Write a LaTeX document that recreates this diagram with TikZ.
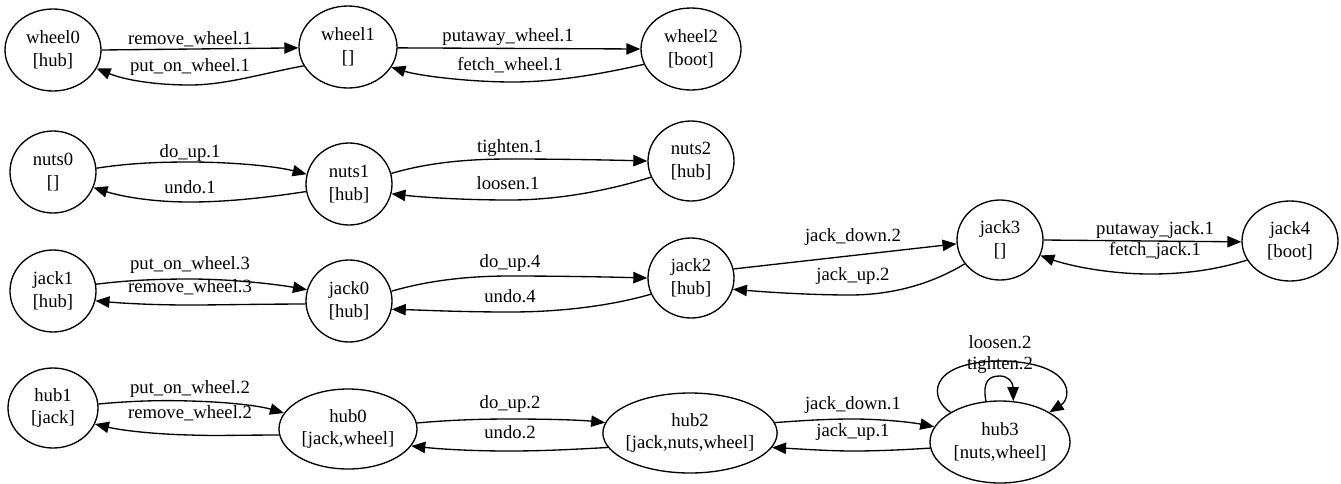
\documentclass[tikz,border=0pt]{standalone}
\usepackage{fontspec}
\setmainfont{Liberation Serif}
\usetikzlibrary{shapes.geometric,arrows.meta}
\begin{document}
\begin{tikzpicture}[x=0.75pt,y=-0.75pt,
  st/.style={ellipse,draw,line width=1pt,inner sep=0pt,align=center,font=\fontsize{14}{17}\selectfont},
  lbl/.style={inner sep=0pt,font=\fontsize{14}{16.8}\selectfont},
  arr/.style={line width=1pt,-{Triangle[length=10.5pt,width=8.5pt]}}]
\useasboundingbox (0,0) rectangle (1341,483);
% nodes
\node[st,minimum width=72pt,minimum height=61.5pt] (wheel0) at (53,50) {wheel0\\{[hub]}};
\node[st,minimum width=73.5pt,minimum height=61.5pt] (wheel1) at (348,47) {wheel1\\{[]}};
\node[st,minimum width=75pt,minimum height=61.5pt] (wheel2) at (691,49) {wheel2\\{[boot]}};
\node[st,minimum width=64.5pt,minimum height=61.5pt] (nuts0) at (53,172) {nuts0\\{[]}};
\node[st,minimum width=64.5pt,minimum height=61.5pt] (nuts1) at (349,184) {nuts1\\{[hub]}};
\node[st,minimum width=64.5pt,minimum height=60pt] (nuts2) at (691,161) {nuts2\\{[hub]}};
\node[st,minimum width=64.5pt,minimum height=61.5pt] (jack1) at (53,291) {jack1\\{[hub]}};
\node[st,minimum width=64.5pt,minimum height=61.5pt] (jack0) at (349,301) {jack0\\{[hub]}};
\node[st,minimum width=64.5pt,minimum height=60pt] (jack2) at (691,278) {jack2\\{[hub]}};
\node[st,minimum width=64.5pt,minimum height=60pt] (jack3) at (1000,240) {jack3\\{[]}};
\node[st,minimum width=72pt,minimum height=60pt] (jack4) at (1290,241) {jack4\\{[boot]}};
\node[st,minimum width=67.5pt,minimum height=60pt] (hub1) at (53,408) {hub1\\{[jack]}};
\node[st,minimum width=103.5pt,minimum height=60pt] (hub0) at (348,429) {hub0\\{[jack,wheel]}};
\node[st,minimum width=130.5pt,minimum height=60pt,inner xsep=-2pt] (hub2) at (690,433) {hub2\\{[jack,nuts,wheel]}};
\node[st,minimum width=105pt,minimum height=61.5pt] (hub3) at (1000,442) {hub3\\{[nuts,wheel]}};
% wheel row
\draw[arr] (wheel0.0) -- (wheel1.181);
\node[lbl] (l1) at (190,39) {remove\_wheel.1};
\draw[arr] (wheel1.203) .. controls (260,74) and (225,85) .. (190,85) .. controls (155,85) and (125,80) .. (wheel0.337);
\node[lbl] (l2) at (190,67) {put\_on\_wheel.1};
\draw[arr] (wheel1.359) -- (wheel2.180);
\node[lbl] (l3) at (508,37) {putaway\_wheel.1};
\draw[arr] (wheel2.198) .. controls (610,72) and (560,82) .. (513,82) .. controls (470,82) and (420,76) .. (wheel1.335);
\node[lbl] (l4) at (510,65) {fetch\_wheel.1};
% nuts row
\draw[arr] (nuts0.5) .. controls (130,163) and (160,162) .. (190,162) .. controls (230,162) and (275,166) .. (nuts1.167);
\node[lbl] (l5) at (190,153) {do\_up.1};
\draw[arr] (nuts1.190) .. controls (270,197) and (230,202) .. (190,202) .. controls (150,202) and (120,196) .. (nuts0.339);
\node[lbl] (l6) at (190,187) {undo.1};
\draw[arr] (nuts1.14) .. controls (430,162) and (470,159) .. (510,159) .. controls (560,159) and (610,160) .. (nuts2.180);
\node[lbl] (l7) at (510,148) {tighten.1};
\draw[arr] (nuts2.202) .. controls (610,190) and (560,200) .. (510,200) .. controls (460,200) and (420,197) .. (nuts1.347);
\node[lbl] (l8) at (508,183) {loosen.1};
% jack row
\draw[arr] (jack1.9) .. controls (130,280) and (160,279) .. (190,279) .. controls (230,279) and (275,284) .. (jack0.165);
\node[lbl] (l9) at (190,265) {put\_on\_wheel.3};
\draw[arr] (jack0.184) .. controls (260,304) and (220,305) .. (190,305) .. controls (150,305) and (120,303) .. (jack1.347);
\node[lbl] (l10) at (190,287) {remove\_wheel.3};
\draw[arr] (jack0.13) .. controls (430,280) and (470,276) .. (510,276) .. controls (560,276) and (610,277) .. (jack2.180);
\node[lbl] (l11) at (510,263) {do\_up.4};
\draw[arr] (jack2.202) .. controls (610,306) and (560,312) .. (510,312) .. controls (460,312) and (420,310) .. (jack0.349);
\node[lbl] (l12) at (510,296) {undo.4};
\draw[arr] (jack2.12) -- (jack3.185);
\node[lbl] (l13) at (853,237) {jack\_down.2};
\draw[arr] (jack3.214) .. controls (930,285) and (890,295) .. (850,295) .. controls (810,295) and (765,292) .. (jack2.345);
\node[lbl] (l14) at (853,276) {jack\_up.2};
\draw[arr] (jack3.0) -- (jack4.181);
\node[lbl] (l15) at (1155,230) {putaway\_jack.1};
\draw[arr] (jack4.204) .. controls (1215,270) and (1185,274) .. (1150,274) .. controls (1110,274) and (1070,266) .. (jack3.339);
\node[lbl] (l16) at (1155,251) {fetch\_jack.1};
% hub row
\draw[arr] (hub1.5) .. controls (130,401) and (160,400) .. (190,401) .. controls (230,402) and (260,406) .. (hub0.166);
\node[lbl] (l17) at (190,389) {put\_on\_wheel.2};
\draw[arr] (hub0.185) .. controls (240,435) and (215,436) .. (190,435) .. controls (150,434) and (120,430) .. (hub1.339);
\node[lbl] (l18) at (190,413) {remove\_wheel.2};
\draw[arr] (hub0.5) .. controls (450,420) and (480,419) .. (510,419) .. controls (550,419) and (580,420) .. (hub2.173);
\node[lbl] (l19) at (510,404) {do\_up.2};
\draw[arr] (hub2.190) .. controls (580,449) and (545,451) .. (510,451) .. controls (470,451) and (440,449) .. (hub0.345);
\node[lbl] (l20) at (510,432) {undo.2};
\draw[arr] (hub2.7) .. controls (810,420) and (830,419) .. (853,419) .. controls (880,419) and (910,422) .. (hub3.167);
\node[lbl] (l21) at (853,405) {jack\_down.1};
\draw[arr] (hub3.185) .. controls (900,450) and (875,451) .. (853,451) .. controls (830,451) and (800,449) .. (hub2.350);
\node[lbl] (l22) at (853,432) {jack\_up.1};
% self loops
\draw[arr] (hub3.109) .. controls (982,380) and (990,376) .. (1000,376) .. controls (1008,376) and (1013,382) .. (hub3.72);
\node[lbl] (l23) at (1000,365) {tighten.2};
\draw[arr] (hub3.149) .. controls (930,400) and (925,362) .. (1000,361) .. controls (1075,362) and (1072,398) .. (hub3.31);
\node[lbl] (l24) at (1000,342) {loosen.2};
\end{tikzpicture}
\end{document}
